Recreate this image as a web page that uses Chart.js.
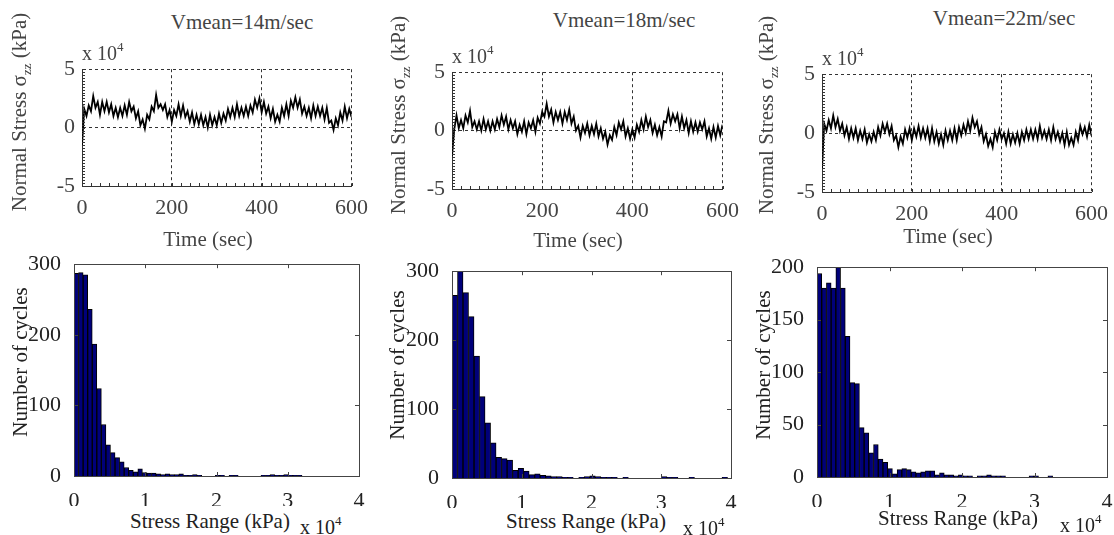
<!DOCTYPE html>
<html>
<head>
<meta charset="utf-8">
<script src="https://cdn.jsdelivr.net/npm/chart.js@4.4.0/dist/chart.umd.min.js"></script>
<style>
body { margin: 0; background: #fff; width: 1114px; height: 535px; overflow: hidden; position: relative; font-family: "Liberation Serif", serif; }
canvas { position: absolute; }
.lbl { position: absolute; white-space: nowrap; transform: translate(-50%, -50%); font-size: 21px; line-height: 24px; }
.rot { transform: translate(-50%, -50%) rotate(-90deg); }
.top { color: #444; }
.bot { color: #222; }
.mul { position: absolute; white-space: nowrap; font-size: 20px; line-height: 22px; transform: translateY(-50%); }
.mul sup { font-size: 13px; vertical-align: 9px; }
sub { font-size: 13px; vertical-align: -5px; }
</style>
</head>
<body>

<canvas id="ts14"></canvas>
<canvas id="ts18"></canvas>
<canvas id="ts22"></canvas>
<canvas id="h14"></canvas>
<canvas id="h18"></canvas>
<canvas id="h22"></canvas>

<div class="lbl top" style="left:242px;top:22px;">Vmean=14m/sec</div>
<div class="lbl top" style="left:624px;top:20px;">Vmean=18m/sec</div>
<div class="lbl top" style="left:1004px;top:18px;">Vmean=22m/sec</div>

<div class="mul top" style="left:82px;top:50px;">x 10<sup>4</sup></div>
<div class="mul top" style="left:452px;top:53px;">x 10<sup>4</sup></div>
<div class="mul top" style="left:822px;top:55px;">x 10<sup>4</sup></div>

<div class="lbl top rot" style="left:23px;top:112px;">Normal Stress σ<sub>zz</sub> (kPa)</div>
<div class="lbl top rot" style="left:402px;top:115px;">Normal Stress σ<sub>zz</sub> (kPa)</div>
<div class="lbl top rot" style="left:770px;top:115px;">Normal Stress σ<sub>zz</sub> (kPa)</div>

<div class="lbl top" style="left:208px;top:239px;">Time (sec)</div>
<div class="lbl top" style="left:578px;top:240px;">Time (sec)</div>
<div class="lbl top" style="left:948px;top:236px;">Time (sec)</div>

<div class="lbl bot rot" style="left:20px;top:362px;">Number of cycles</div>
<div class="lbl bot rot" style="left:397px;top:365px;">Number of cycles</div>
<div class="lbl bot rot" style="left:763px;top:365px;">Number of cycles</div>

<div class="lbl bot" style="left:210px;top:521px;">Stress Range (kPa)</div>
<div class="lbl bot" style="left:586px;top:521px;">Stress Range (kPa)</div>
<div class="lbl bot" style="left:958px;top:518px;">Stress Range (kPa)</div>

<div class="mul bot" style="left:300px;top:524px;">x 10<sup>4</sup></div>
<div class="mul bot" style="left:683px;top:525px;">x 10<sup>4</sup></div>
<div class="mul bot" style="left:1060px;top:522px;">x 10<sup>4</sup></div>

<script>
// time series, sampled every 5 sec, values in units of 10^4 kPa
var sampleStep = 5;
var stressTimes = [];
for (var t = 0; t <= 600; t += sampleStep) stressTimes.push(t);

var stress14 = [-1.5,
    1.6, 1.0, 1.9, 1.4, 2.7, 1.7, 2.2, 1.1, 2.2, 1.4, 2.2, 1.3,
    2.0, 1.0, 1.7, 0.9, 1.7, 1.0, 1.9, 1.1, 2.2, 1.4, 1.8, 0.8,
    1.4, 0.2, 0.7, -0.1, 1.1, 0.7, 1.8, 1.4, 2.8, 1.7, 2.0, 1.5,
    2.0, 0.9, 1.5, 0.5, 1.5, 1.0, 2.0, 1.0, 1.9, 0.9, 1.4, 0.5,
    1.3, 0.3, 1.1, 0.3, 1.1, 0.2, 0.9, 0.0, 1.1, 0.2, 0.9, 0.2,
    1.2, 0.4, 1.2, 0.6, 1.6, 0.9, 1.7, 0.9, 2.0, 1.0, 1.7, 1.0,
    1.8, 1.0, 1.9, 1.3, 2.4, 1.7, 2.5, 1.3, 2.2, 1.2, 1.8, 0.8,
    1.6, 0.5, 1.1, 0.5, 1.7, 1.0, 2.0, 1.0, 2.3, 1.7, 2.6, 1.7,
    2.4, 1.2, 1.8, 1.0, 1.7, 0.8, 1.9, 1.0, 1.8, 1.0, 1.7, 0.7,
    1.7, 0.4, 0.6, -0.2, 0.8, 0.2, 1.3, 0.6, 1.8, 0.8, 1.6, 0.9];

var stress18 = [-2.2,
    0.1, 1.3, 0.2, 0.9, 0.2, 1.3, 0.7, 1.7, 0.3, 0.8, 0.1, 0.8,
    0.0, 1.0, 0.1, 0.8, 0.0, 0.8, 0.1, 1.0, 0.3, 1.3, 0.5, 1.2,
    0.1, 0.9, 0.2, 0.8, -0.3, 0.5, -0.1, 0.8, -0.3, 0.7, 0.2, 0.9,
    -0.1, 1.1, 0.6, 1.6, 1.2, 2.3, 1.2, 1.8, 0.7, 1.6, 0.9, 1.6,
    0.6, 1.6, 0.9, 1.8, 0.6, 1.2, 0.0, 0.4, -0.6, 0.4, -0.2, 0.6,
    -0.4, 0.4, -0.3, 0.6, -0.5, 0.2, -0.7, -0.1, -1.2, -0.4, -0.8, 0.3,
    -0.4, 0.7, 0.1, 0.8, -0.5, 0.2, -0.7, 0.1, -0.6, 0.5, -0.1, 0.9,
    0.1, 1.2, 0.3, 0.9, -0.2, 0.5, -0.4, 0.3, -0.5, 0.8, 0.7, 1.7,
    0.6, 1.4, 0.8, 1.4, 0.2, 1.2, 0.2, 0.9, -0.2, 0.8, -0.1, 0.7,
    -0.1, 0.7, 0.1, 0.8, -0.5, 0.2, -0.7, 0.3, -0.6, 0.4, -0.4, 0.5];

var stress22 = [-3.0,
    0.8, 0.2, 1.1, 0.4, 1.5, 0.5, 1.2, 0.2, 0.8, -0.2, 0.5, -0.5,
    0.4, -0.4, 0.4, -0.6, 0.2, -0.5, 0.3, -0.8, -0.1, -0.7, 0.1, -0.6,
    0.5, -0.2, 0.8, 0.1, 0.8, -0.1, 0.6, -0.6, -0.2, -1.2, -0.3, -0.9,
    0.3, -0.4, 0.4, -0.6, 0.4, -0.3, 0.6, -0.4, 0.4, -0.4, 0.4, -0.7,
    0.4, -0.7, 0.1, -0.9, -0.1, -1.0, 0.2, -0.6, 0.2, -0.6, 0.4, -0.6,
    0.5, -0.2, 0.7, 0.0, 1.0, 0.2, 1.3, 0.5, 1.0, -0.1, 0.5, -0.7,
    -0.1, -1.1, -0.5, -1.2, 0.1, -0.6, 0.3, -0.5, 0.0, -0.9, 0.1, -0.9,
    -0.1, -0.8, 0.0, -0.9, 0.1, -0.6, 0.3, -0.5, 0.3, -0.5, 0.3, -0.5,
    0.6, -0.4, 0.2, -0.5, 0.3, -0.6, 0.5, -0.5, 0.1, -0.7, 0.0, -1.0,
    0.1, -1.0, -0.4, -1.0, 0.1, -0.6, 0.6, -0.1, 0.5, -0.3, 0.7, -0.2];

// rainflow histograms, 50 bins from 0 to max stress range (units of 10^4 kPa)
var binWidth14 = 0.064;
var count14 = [287, 288, 285, 236, 187, 124, 73, 44, 33, 26,
    20, 12, 8, 6, 10, 5, 4, 4, 3, 2,
    3, 2, 2, 3, 1, 1, 2, 1, 0, 0,
    0, 1, 1, 0, 1, 1, 0, 0, 0, 0,
    0, 1, 1, 2, 1, 1, 2, 1, 1, 1];

var binWidth18 = 0.079;
var count18 = [265, 300, 269, 234, 177, 118, 80, 51, 30, 28,
    26, 11, 14, 10, 5, 6, 4, 3, 2, 2,
    1, 1, 0, 1, 2, 3, 2, 1, 1, 1,
    0, 1, 0, 0, 0, 0, 0, 0, 2, 1,
    1, 0, 0, 1, 0, 0, 0, 0, 0, 1];

var binWidth22 = 0.065;
var count22 = [194, 180, 185, 180, 200, 180, 134, 90, 89, 47,
    42, 23, 31, 17, 14, 8, 3, 7, 8, 7,
    5, 4, 5, 6, 6, 2, 4, 2, 2, 1,
    2, 1, 1, 0, 1, 1, 2, 1, 1, 1,
    0, 0, 0, 0, 0, 1, 1, 0, 0, 1];

var tickFont = { family: "Liberation Serif", size: 22 };

// small inward tick marks, plus the closing box of the histograms
var tickMarks = {
    id: 'tickMarks',
    afterDraw: function(chart, args, opts) {
        var ctx = chart.ctx;
        var a = chart.chartArea;
        var xs = chart.scales.x, ys = chart.scales.y;
        var v, p;
        ctx.save();
        ctx.strokeStyle = opts.color;
        ctx.lineWidth = 1;
        ctx.beginPath();
        if (opts.box) {
            ctx.rect(Math.round(a.left) + 0.5, Math.round(a.top) + 0.5, Math.round(a.right - a.left), Math.round(a.bottom - a.top));
        }
        for (v = xs.min; v <= xs.max + 1e-9; v += opts.xStep) {
            p = Math.round(xs.getPixelForValue(v)) + 0.5;
            ctx.moveTo(p, a.bottom);
            ctx.lineTo(p, a.bottom - opts.len);
            if (opts.box) {
                ctx.moveTo(p, a.top);
                ctx.lineTo(p, a.top + opts.len);
            }
        }
        for (v = ys.min; v <= ys.max + 1e-9; v += opts.yStep) {
            p = Math.round(ys.getPixelForValue(v)) + 0.5;
            ctx.moveTo(a.left, p);
            ctx.lineTo(a.left + opts.len, p);
            if (opts.box) {
                ctx.moveTo(a.right, p);
                ctx.lineTo(a.right - opts.len, p);
            }
        }
        ctx.stroke();
        ctx.restore();
    }
};

function placeCanvas(id, plot, yW, padTop, padRight, xH) {
    var c = document.getElementById(id);
    var w = plot.r - plot.l + yW + padRight;
    var h = plot.b - plot.t + padTop + xH;
    c.width = w;
    c.height = h;
    c.style.left = (plot.l - yW) + 'px';
    c.style.top = (plot.t - padTop) + 'px';
    c.style.width = w + 'px';
    c.style.height = h + 'px';
    return c;
}

function drawStress(id, plot, values) {
    var c = placeCanvas(id, plot, 60, 14, 20, 30);
    var points = [];
    for (var i = 0; i < values.length; i++) {
        points.push({ x: stressTimes[i], y: values[i] });
    }
    return new Chart(c, {
        type: 'line',
        data: {
            datasets: [{
                data: points,
                borderColor: '#000',
                borderWidth: 1.8,
                pointRadius: 0,
                tension: 0,
                fill: false
            }]
        },
        options: {
            responsive: false,
            animation: false,
            layout: { padding: { top: 14, right: 20, left: 0, bottom: 0 } },
            plugins: {
                legend: { display: false },
                tooltip: { enabled: false },
                tickMarks: { color: '#333', len: 3, xStep: 20, yStep: 0.25, box: false }
            },
            scales: {
                x: {
                    type: 'linear', min: 0, max: 600,
                    afterFit: function(s) { s.height = 30; },
                    grid: { color: '#333', lineWidth: 1, drawTicks: false },
                    border: { display: true, color: '#333', width: 1, dash: [3, 3] },
                    ticks: { stepSize: 200, padding: 9, color: '#444', font: tickFont }
                },
                y: {
                    min: -5, max: 5,
                    afterFit: function(s) { s.width = 60; },
                    grid: { color: '#333', lineWidth: 1, drawTicks: false },
                    border: { display: true, color: '#333', width: 1, dash: [3, 3] },
                    ticks: { stepSize: 5, padding: 7, color: '#444', font: tickFont }
                }
            }
        },
        plugins: [tickMarks]
    });
}

function drawHist(id, plot, counts, binWidth, yMax, yStep) {
    var c = placeCanvas(id, plot, 60, 14, 14, 30);
    var bars = [];
    for (var i = 0; i < counts.length; i++) {
        bars.push({ x: (i + 0.5) * binWidth, y: counts[i] });
    }
    return new Chart(c, {
        type: 'bar',
        data: {
            datasets: [{
                data: bars,
                backgroundColor: '#00007a',
                borderColor: '#000',
                borderWidth: 1,
                barPercentage: 1,
                categoryPercentage: 1
            }]
        },
        options: {
            responsive: false,
            animation: false,
            layout: { padding: { top: 14, right: 14, left: 0, bottom: 0 } },
            plugins: {
                legend: { display: false },
                tooltip: { enabled: false },
                tickMarks: { color: '#444', len: 4, xStep: 1, yStep: yStep, box: true }
            },
            scales: {
                x: {
                    type: 'linear', min: 0, max: 4, offset: false,
                    afterFit: function(s) { s.height = 30; },
                    grid: { display: false },
                    border: { display: true, color: '#444', width: 1 },
                    ticks: { stepSize: 1, padding: 4, color: '#222', font: tickFont }
                },
                y: {
                    min: 0, max: yMax,
                    afterFit: function(s) { s.width = 60; },
                    grid: { display: false },
                    border: { display: true, color: '#444', width: 1 },
                    ticks: { stepSize: yStep, padding: 5, color: '#222', font: tickFont }
                }
            }
        },
        plugins: [tickMarks]
    });
}

drawStress('ts14', { l: 82, t: 63, r: 357, b: 186 }, stress14);
drawStress('ts18', { l: 452, t: 66, r: 728, b: 189 }, stress18);
drawStress('ts22', { l: 822, t: 68, r: 1097, b: 192 }, stress22);

drawHist('h14', { l: 74, t: 260, r: 359, b: 476 }, count14, binWidth14, 300, 100);
drawHist('h18', { l: 452, t: 267, r: 731, b: 478 }, count18, binWidth18, 300, 100);
drawHist('h22', { l: 817, t: 263, r: 1107, b: 477 }, count22, binWidth22, 200, 50);
</script>
</body>
</html>
